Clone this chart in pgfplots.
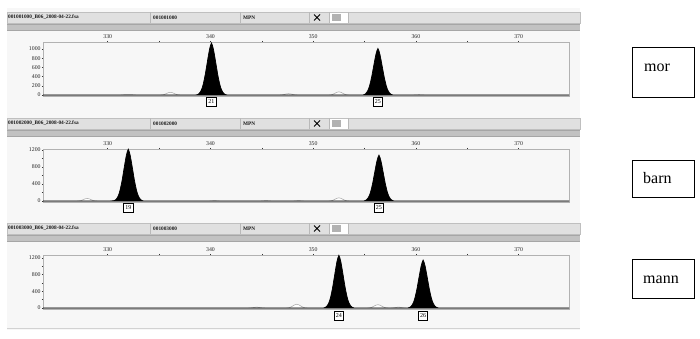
\documentclass[border=0pt]{standalone}
\usepackage{fontspec}
\setmainfont{Liberation Serif}
\usepackage{pgfplots}
\pgfplotsset{compat=1.18}
\newcommand\header[2]{%
  \fill[gray!24] (7,#1) rectangle (580,#1+11);
  \fill[white] (329,#1) rectangle (348,#1+11);
  \draw[gray!50, line width=0.4pt] (7,#1) rectangle (580,#1+11);
  \draw[gray!55, line width=0.4pt] (150,#1)--(150,#1+11) (240,#1)--(240,#1+11) (309,#1)--(309,#1+11) (329,#1)--(329,#1+11) (348,#1)--(348,#1+11);
  \node[anchor=west, inner sep=0, font=\fontsize{5.3}{6}\selectfont\bfseries, text=black!90] at (8,#1+5.5) {#2\_B06\_2008-04-22.fsa};
  \node[anchor=west, inner sep=0, font=\fontsize{5.3}{6}\selectfont\bfseries, text=black!90] at (153,#1+5.5) {#2};
  \node[anchor=west, inner sep=0, font=\fontsize{5.3}{6}\selectfont\bfseries, text=black!90] at (243,#1+5.5) {MPN};
  \draw[black, line width=1pt] (314,#1+2.5)--(320,#1+8.5) (314,#1+8.5)--(320,#1+2.5);
  \fill[gray!60] (331.5,#1+2) rectangle (340.5,#1+9);
  \fill[gray!48] (7,#1+12) rectangle (580,#1+19);
  \draw[gray!70, line width=0.6pt] (7,#1+12.3)--(580,#1+12.3) (7,#1+18.7)--(580,#1+18.7);
}
\pgfplotsset{panel/.style={anchor=south west, width=526pt, scale only axis,
  xmin=323.7, xmax=374.9, xtick={330,340,...,370}, minor xtick={335,345,...,365},
  xtick pos=right, xticklabel pos=right, ytick pos=left,
  major tick length=2.5pt, minor tick length=2.5pt, tick align=center,
  tick style={black!80, line width=0.5pt},
  axis line style={gray!60, line width=0.4pt},
  tick label style={font=\fontsize{5.8}{6}\selectfont, text=black!85},
  /pgf/number format/1000 sep={},
  /pgf/number format/assume math mode=true,
  xticklabel style={inner sep=0.5pt, yshift=1.2pt},
  yticklabel style={inner sep=1pt},
  clip=false,
  axis background/.style={fill=none}}}
\tikzset{allele/.style={draw=black, line width=0.8pt, fill=white, inner sep=0.8pt,
  minimum width=9.5pt, minimum height=9pt, font=\fontsize{6}{6}\selectfont}}
\begin{document}
\begin{tikzpicture}
\useasboundingbox (0,0) rectangle (700pt,338pt);
\begin{scope}[x=1pt,y=-1pt,yshift=338pt]
  \fill[gray!6] (7,8) rectangle (580,330);
  \header{12}{001001000}
  \header{118}{001002000}
  \header{223}{001003000}
  \draw[gray!35, line width=0.8pt] (7,328)--(580,328);
  \draw[line width=0.6pt] (632,47) rectangle (694,97);
  \draw[line width=0.6pt] (632,160) rectangle (694,197);
  \draw[line width=0.6pt] (632,259) rectangle (694,298);
  \node[anchor=base west, inner sep=0, font=\fontsize{16}{18}\selectfont] at (644,72) {mor};
  \node[anchor=base west, inner sep=0, font=\fontsize{16}{18}\selectfont] at (643,183) {barn};
  \node[anchor=base west, inner sep=0, font=\fontsize{16}{18}\selectfont] at (643,283.5) {mann};
\end{scope}

% ---------- panel 1 : mor ----------
\begin{axis}[panel, at={(43pt,242pt)}, height=54pt, ymin=-20, ymax=1150, ytick={0,200,...,1000}]
\addplot[draw=gray!70, fill=white, line width=0.5pt] coordinates {
(323.7,0)(331.2,0)(331.6,8)(332,12)(332.4,8)(332.8,0)
(335.1,0)(335.3,4)(335.5,14)(335.7,31)(335.9,51)(336.1,60)(336.3,51)(336.5,31)(336.7,14)(336.9,4)(337.1,0)
(346.6,0)(346.8,2)(347.0,7)(347.2,16)(347.4,26)(347.6,30)(347.8,26)(348.0,16)(348.2,7)(348.4,2)(348.6,0)
(351.5,0)(351.7,5)(351.9,16)(352.1,36)(352.3,60)(352.5,70)(352.7,60)(352.9,36)(353.1,16)(353.3,5)(353.5,0)
(359.7,0)(360.0,5)(360.3,8)(360.6,5)(360.9,0)(374.9,0)} \closedcycle;
\addplot[draw=black, fill=black, line width=0.7pt] coordinates {
(323.7,0)(338.5,0)(338.7,8)(338.8,18)(338.9,36)(339.0,64)(339.1,104)(339.2,160)(339.3,240)(339.4,342)(339.5,455)(339.6,590)(339.7,725)(339.8,860)(339.9,983)(340.0,1074)(340.1,1130)(340.2,1074)(340.3,983)(340.4,860)(340.5,725)(340.6,590)(340.7,455)(340.8,342)(340.9,240)(341.0,160)(341.1,104)(341.2,64)(341.3,36)(341.4,18)(341.5,8)(341.7,0)
(354.8,0)(354.9,6)(355.0,15)(355.1,30)(355.2,56)(355.3,91)(355.4,141)(355.5,212)(355.6,303)(355.7,404)(355.8,525)(355.9,646)(356.0,768)(356.1,879)(356.2,960)(356.3,1010)(356.4,960)(356.5,879)(356.6,768)(356.7,646)(356.8,525)(356.9,404)(357.0,303)(357.1,212)(357.2,141)(357.3,91)(357.4,56)(357.5,30)(357.6,15)(357.7,6)(357.8,0)(374.9,0)} \closedcycle;
\node[allele] at (axis cs:340.1,-137) {21};
\node[allele] at (axis cs:356.3,-137) {25};
\end{axis}

% ---------- panel 2 : barn ----------
\begin{axis}[panel, at={(43pt,136pt)}, height=53pt, ymin=-23, ymax=1224, ytick={0,400,800,1200}, minor ytick={200,600,1000}]
\addplot[draw=gray!70, fill=white, line width=0.5pt] coordinates {
(323.7,0)(327.0,0)(327.2,3)(327.4,12)(327.6,31)(327.8,51)(328.0,60)(328.2,51)(328.4,31)(328.6,12)(328.8,3)(329.0,0)
(339.9,0)(340.2,6)(340.4,10)(340.6,6)(340.9,0)
(344.9,0)(345.2,6)(345.4,10)(345.6,6)(345.9,0)
(348.1,0)(348.4,6)(348.6,10)(348.8,6)(349.1,0)
(351.5,0)(351.7,5)(351.9,17)(352.1,39)(352.3,64)(352.5,75)(352.7,64)(352.9,39)(353.1,17)(353.3,5)(353.5,0)(374.9,0)} \closedcycle;
\addplot[draw=black, fill=black, line width=0.7pt] coordinates {
(323.7,0)(330.2,0)(330.4,4)(330.6,9)(330.7,18)(330.8,37)(330.9,67)(331.0,110)(331.1,171)(331.2,256)(331.3,366)(331.4,488)(331.5,634)(331.6,781)(331.7,927)(331.8,1061)(331.9,1159)(332.0,1220)(332.1,1159)(332.2,1061)(332.3,927)(332.4,781)(332.5,634)(332.6,488)(332.7,366)(332.8,256)(332.9,171)(333.0,110)(333.1,67)(333.2,37)(333.3,18)(333.4,7)(333.5,0)
(354.9,0)(355.0,6)(355.1,16)(355.2,32)(355.3,59)(355.4,97)(355.5,151)(355.6,227)(355.7,324)(355.8,432)(355.9,562)(356.0,691)(356.1,821)(356.2,940)(356.3,1026)(356.4,1080)(356.5,1026)(356.6,940)(356.7,821)(356.8,691)(356.9,562)(357.0,432)(357.1,324)(357.2,227)(357.3,151)(357.4,97)(357.5,59)(357.6,32)(357.7,16)(357.8,6)(357.9,0)(374.9,0)} \closedcycle;
\node[allele] at (axis cs:332.0,-152) {19};
\node[allele] at (axis cs:356.4,-152) {25};
\end{axis}

% ---------- panel 3 : mann ----------
\begin{axis}[panel, at={(43pt,29pt)}, height=54pt, ymin=-24, ymax=1272, ytick={0,400,800,1200}, minor ytick={200,600,1000}]
\addplot[draw=gray!70, fill=white, line width=0.5pt] coordinates {
(323.7,0)(343.7,0)(343.9,3)(344.1,10)(344.3,17)(344.5,20)(344.7,17)(344.9,10)(345.1,3)(345.3,0)
(347.4,0)(347.6,6)(347.8,21)(348.0,47)(348.2,77)(348.4,90)(348.6,77)(348.8,47)(349.0,21)(349.2,6)(349.4,0)
(355.3,0)(355.5,6)(355.7,18)(355.9,42)(356.1,68)(356.3,80)(356.5,68)(356.7,42)(356.9,18)(357.1,6)(357.3,0)
(357.6,0)(357.9,8)(358.1,17)(358.3,20)(358.5,17)(358.7,8)(359.0,0)(374.9,0)} \closedcycle;
\addplot[draw=black, fill=black, line width=0.7pt] coordinates {
(323.7,0)(351.0,0)(351.1,8)(351.2,19)(351.3,38)(351.4,70)(351.5,114)(351.6,177)(351.7,266)(351.8,380)(351.9,506)(352.0,658)(352.1,810)(352.2,961)(352.3,1101)(352.4,1202)(352.5,1265)(352.6,1202)(352.7,1101)(352.8,961)(352.9,810)(353.0,658)(353.1,506)(353.2,380)(353.3,266)(353.4,177)(353.5,114)(353.6,70)(353.7,38)(353.8,19)(353.9,8)(354.0,0)
(359.2,0)(359.3,7)(359.4,17)(359.5,35)(359.6,63)(359.7,104)(359.8,161)(359.9,242)(360.0,345)(360.1,460)(360.2,598)(360.3,736)(360.4,874)(360.5,1001)(360.6,1093)(360.7,1150)(360.8,1093)(360.9,1001)(361.0,874)(361.1,736)(361.2,598)(361.3,460)(361.4,345)(361.5,242)(361.6,161)(361.7,104)(361.8,63)(361.9,35)(362.0,17)(362.1,7)(362.2,0)(374.9,0)} \closedcycle;
\node[allele] at (axis cs:352.5,-192) {24};
\node[allele] at (axis cs:360.7,-192) {26};
\end{axis}
\end{tikzpicture}
\end{document}
